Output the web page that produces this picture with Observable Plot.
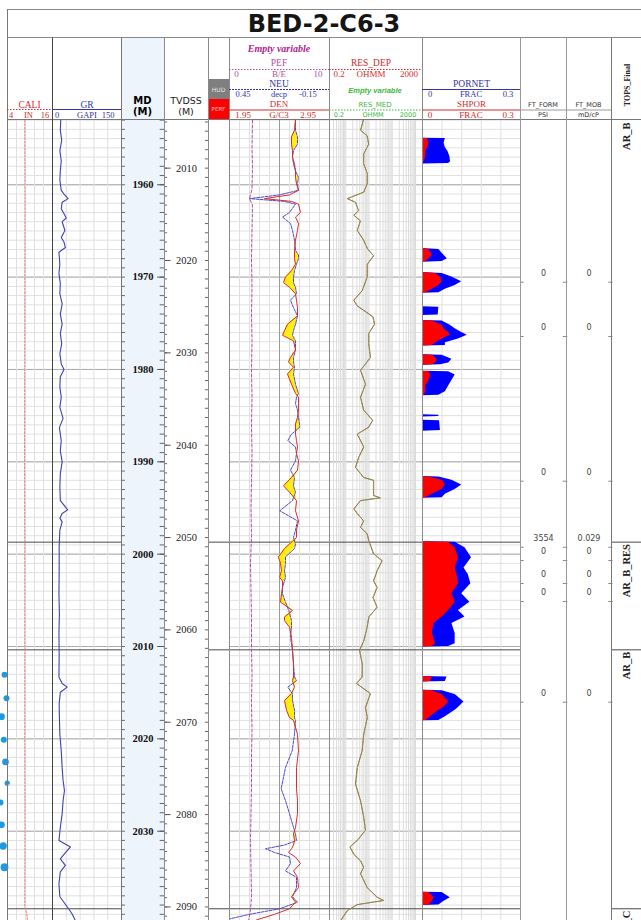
<!DOCTYPE html>
<html><head><meta charset="utf-8">
<script src="https://cdn.jsdelivr.net/npm/d3@7"></script>
<script src="https://cdn.jsdelivr.net/npm/@observablehq/plot@0.6"></script>
<style>
body{margin:0;background:#fff;}
#wrap{position:relative;width:641px;height:920px;overflow:hidden;background:#fff;}
.trk{position:absolute;overflow:hidden;}
.trk svg{display:block;max-width:none;}
</style></head><body><div id="wrap"></div>
<script>
// ---------------- DATA ----------------
const CALI_MD = [1953.0,1962,1975,1990,2000,2010,2020,2030,2038.2,2038.8,2039.7];
const CALI    = [8.6,8.65,8.6,8.55,8.6,8.6,8.6,8.65,8.6,9.1,9.3];

const GR_MD = [
 1953.0,1954.1,1955.2,1956.3,1957.4,1958.5,1959.5,1960.6,1961.0,1961.5,
 1961.9,1962.6,1963.6,1964.0,1964.95,1965.7,1966.2,1966.8,1967.3,1968.6,
 1969.6,1970.7,1971.8,1972.9,1974.0,1975.1,1976.1,1977.2,1978.3,1979.4,
 1980.0,1980.8,1981.9,1983.0,1984.1,1985.3,1986.3,1987.7,1988.8,1990.0,
 1991.3,1992.7,1994.2,1994.7,1995.2,1995.6,1996.1,1996.5,1997.4,1999.2,
 2001.8,2004.3,2006.5,2008.6,2010.8,2013.3,2014.0,2014.4,2014.95,2016.2,
 2017.65,2019.5,2021.3,2023.1,2024.5,2025.6,2026.7,2028.1,2029.6,2031.0,
 2031.7,2032.5,2033.0,2033.7,2034.4,2035.7,2037.1,2038.4,2039.0,2039.7];
const GR = [
 18,17,20,16,19,17,16,19,25,34,
 21,19,30,21,27,19,25,28,14,16,
 14,17,16,21,17,21,17,20,16,19,
 25,17,16,19,16,23,15,19,17,21,
 17,16,17,25,33,21,16,21,16,14.5,
 14.5,14,15,14,14.5,14,21,32,17,14.5,
 15,16,19,21,23,26,23,21,17,14,
 39,25,17,28,17,14,16,35,43,50];

const PEF_MD = [1953.0,1956,1958,1960.5,1961.5,1962.2,1965,1968,1971,1974,1977,1980,1983,1986,1989,1992,1995,1998,2001,2004,2007,2010,2013,2016,2019,2022,2025,2028,2031,2034,2037,2038.5,2039.7];
const PEF    = [2.3,2.25,2.3,2.25,2.0,2.3,2.25,2.2,2.25,2.2,2.25,2.2,2.25,2.2,2.25,2.2,2.15,2.2,2.1,2.15,2.2,2.2,2.25,2.2,2.25,2.2,2.2,2.15,2.1,2.15,2.2,2.1,1.9];

const DN_MD = [
 1952.9,1954.1,1954.8,1955.6,1956.3,1957.0,1957.7,1958.5,1959.2,1959.9,
 1960.6,1961.1,1961.5,1961.8,1962.1,1963.0,1963.5,1964.2,1964.95,1966.0,
 1967.1,1967.6,1968.0,1968.6,1969.3,1970.0,1970.6,1971.1,1971.8,1972.5,
 1973.3,1974.2,1975.1,1975.8,1976.3,1976.9,1977.9,1978.7,1979.2,1979.75,
 1980.5,1981.6,1982.6,1983.0,1983.7,1984.4,1985.2,1985.9,1986.25,1987.0,
 1987.7,1988.4,1989.1,1989.9,1990.9,1991.7,1992.6,1993.3,1994.2,1995.3,
 1996.4,1997.4,1998.2,1998.9,1999.4,2000.3,2001.0,2001.8,2002.5,2002.9,
 2003.6,2004.3,2005.2,2006.1,2006.8,2007.2,2007.9,2009.0,2010.4,2011.9,
 2013.3,2013.7,2014.4,2015.1,2015.85,2016.9,2017.7,2018.0,2019.5,2021.3,
 2023.1,2025.4,2026.7,2028.1,2029.6,2030.3,2031.0,2031.5,2031.9,2032.3,
 2032.8,2033.5,2034.3,2035.0,2036.1,2037.1,2037.7,2038.4,2039.0,2039.5,
 2039.7];
const NEU = [
 0.054,0.054,0.042,0.042,0.066,0.072,0.060,0.054,0.036,0.042,
 0.036,0.150,0.330,0.120,0.054,0.090,0.132,0.084,0.072,0.060,
 0.054,0.036,0.036,0.048,0.060,0.066,0.066,0.054,0.048,0.084,
 0.066,0.042,0.054,0.066,0.072,0.054,0.054,0.066,0.066,0.060,
 0.066,0.054,0.036,0.048,0.054,0.042,0.036,0.030,0.028,0.078,
 0.100,0.054,0.048,0.054,0.084,0.060,0.066,0.054,0.072,0.148,
 0.042,0.054,0.066,0.054,0.060,0.114,0.114,0.120,0.114,0.120,
 0.132,0.132,0.114,0.094,0.084,0.078,0.078,0.084,0.072,0.066,
 0.060,0.048,0.100,0.072,0.072,0.060,0.060,0.054,0.060,0.074,
 0.114,0.140,0.114,0.090,0.066,0.054,0.048,0.120,0.234,0.180,
 0.090,0.084,0.114,0.048,0.048,0.072,0.042,0.150,0.330,0.450,
 0.450];
const DEN = [
 2.61,2.60,2.57,2.57,2.58,2.58,2.59,2.61,2.61,2.62,
 2.64,2.55,2.30,2.57,2.64,2.66,2.61,2.64,2.63,2.61,
 2.60,2.60,2.60,2.61,2.57,2.51,2.49,2.55,2.61,2.62,
 2.63,2.63,2.53,2.50,2.48,2.59,2.61,2.56,2.54,2.59,
 2.53,2.57,2.61,2.64,2.64,2.64,2.63,2.61,2.61,2.61,
 2.62,2.63,2.62,2.64,2.63,2.57,2.49,2.55,2.62,2.61,
 2.64,2.62,2.62,2.55,2.50,2.44,2.46,2.47,2.45,2.48,
 2.48,2.47,2.46,2.58,2.50,2.50,2.55,2.57,2.58,2.59,
 2.59,2.58,2.60,2.57,2.50,2.52,2.55,2.59,2.63,2.64,
 2.62,2.62,2.63,2.63,2.61,2.59,2.60,2.59,2.57,2.54,
 2.61,2.66,2.59,2.63,2.64,2.57,2.61,2.55,2.40,2.25,
 2.20];

const RES_MD = [
 1953.0,1954.1,1954.7,1955.6,1956.65,1957.7,1958.8,1959.9,1960.8,1961.5,
 1961.9,1962.8,1963.3,1963.9,1964.95,1966.0,1966.9,1967.7,1968.6,1970.0,
 1971.45,1972.5,1973.1,1974.3,1975.1,1976.1,1977.2,1978.7,1980.1,1981.6,
 1983.0,1984.4,1985.5,1986.25,1987.0,1988.4,1989.5,1990.6,1991.7,1992.0,
 1993.65,1993.9,1994.2,1995.1,1995.6,1996.4,1997.1,1997.8,1998.5,1999.97,
 2000.7,2001.8,2002.9,2003.6,2004.7,2005.75,2006.8,2007.9,2009.4,2010.4,
 2011.9,2013.3,2014.0,2015.1,2016.6,2017.7,2019.5,2021.3,2023.1,2024.9,
 2026.7,2028.5,2029.9,2031.0,2031.7,2032.5,2033.2,2033.9,2034.6,2036.1,
 2037.15,2037.5,2037.95,2038.6,2039.7];
const RES_DEP = [
 5.8,4.3,8.4,9.8,5.9,5.9,8.4,8.4,5.9,1.15,
 2.6,3.6,2.2,4.3,3.1,5.9,8.4,15.9,8.4,8.4,
 5.1,2.2,3.1,15,17.5,9.8,9.8,11.6,4.3,7.1,
 4.3,5.9,14.5,9.8,3.1,5.9,3.6,2.6,5.9,15.9,
 15.9,31,4.3,2.2,3.1,5.9,4.3,8.4,9.8,15.9,
 37,22.5,15.9,22.5,15,22.5,9.8,8.4,5.9,3.9,
 5.1,5.1,2.9,11.6,7.1,8.4,5.9,5.1,3.1,2.6,
 4.3,5.9,7.1,3.1,1.5,2.2,4.3,5.9,4.3,8.4,
 22.5,43,3.1,1.15,0.59];
const RES_MED = [
 5.6,4.4,8.2,9.6,6.0,5.8,8.5,8.2,6.0,1.2,
 2.7,3.5,2.3,4.2,3.2,5.8,8.6,15.5,8.5,8.2,
 5.2,2.3,3.0,14.6,17.0,9.9,9.6,11.3,4.4,7.0,
 4.4,5.8,14.0,9.6,3.2,6.0,3.7,2.7,5.8,15.5,
 15.5,30,4.4,2.3,3.2,5.8,4.4,8.2,9.6,15.5,
 36,22,15.5,22,14.6,22,9.9,8.2,6.0,4.0,
 5.2,5.0,3.0,11.3,7.0,8.5,6.0,5.0,3.2,2.7,
 4.4,6.0,7.0,3.2,1.55,2.3,4.4,5.8,4.4,8.2,
 22,42,3.2,1.2,0.6];

const POR_MD = [
 1953.0,1954.95,1955.0,1955.5,1956.0,1956.4,1957.0,1957.5,1957.7,1957.75,
 1966.9,1967.0,1967.6,1968.0,1968.3,1968.4,1969.5,1969.6,1970.0,1970.5,
 1970.9,1971.3,1971.7,1971.75,1973.2,1973.25,1974.1,1974.15,1974.7,1974.75,
 1975.2,1975.6,1976.0,1976.3,1976.7,1977.1,1977.4,1977.45,1978.4,1978.45,
 1978.9,1979.3,1979.5,1979.55,1980.2,1980.25,1980.6,1981.2,1981.8,1982.4,
 1982.8,1982.85,1984.9,1984.95,1985.1,1985.15,1985.5,1985.55,1986.6,1986.7,
 1991.6,1991.65,1992.0,1992.5,1993.0,1993.5,1993.9,1993.95,1998.65,1998.7,
 1999.3,2000.4,2001.5,2002.2,2003.2,2004.3,2005.2,2006.1,2006.8,2007.5,
 2008.6,2009.7,2010.0,2010.05,2013.25,2013.3,2013.8,2013.85,2014.75,2014.8,
 2015.2,2016.0,2016.6,2016.9,2017.6,2018.0,2018.05,2036.6,2036.65,2037.2,
 2037.6,2038.0,2038.05,2039.7];
const PORNET = [
 0,0,0.070,0.066,0.070,0.078,0.084,0.086,0.080,0,
 0,0.050,0.065,0.076,0.060,0,0,0.060,0.090,0.120,
 0.100,0.070,0.050,0,0,0.050,0.048,0,0,0.060,
 0.085,0.100,0.120,0.137,0.110,0.070,0.070,0,0,0.060,
 0.090,0.080,0.055,0,0,0.080,0.100,0.090,0.080,0.070,
 0.050,0,0,0.050,0.050,0,0,0.052,0.055,0,
 0,0.050,0.090,0.120,0.100,0.070,0.060,0,0,0.100,
 0.130,0.150,0.127,0.140,0.148,0.120,0.145,0.110,0.130,0.090,
 0.100,0.100,0.080,0,0,0.075,0.070,0,0,0.060,
 0.100,0.127,0.110,0.100,0.070,0.050,0,0,0.060,0.085,
 0.065,0.050,0,0];
const SHPOR = [
 0,0,0.015,0.020,0.015,0.010,0.010,0.005,0,0,
 0,0.020,0.030,0.020,0.010,0,0,0.040,0.055,0.060,
 0.050,0.030,0.010,0,0,0,0,0,0,0.030,
 0.060,0.065,0.080,0.085,0.060,0.040,0.030,0,0,0.030,
 0.045,0.040,0.030,0,0,0.020,0.025,0.020,0.010,0.010,
 0.005,0,0,0,0,0,0,0,0,0,
 0,0.020,0.060,0.070,0.060,0.030,0.010,0,0,0.080,
 0.100,0.110,0.100,0.105,0.110,0.090,0.100,0.080,0.060,0.035,
 0.030,0.040,0.030,0,0,0.030,0.025,0,0,0.030,
 0.060,0.080,0.065,0.050,0.025,0.010,0,0,0.020,0.035,
 0.030,0.020,0,0];

const FT_MD   = [1970.55,1976.43,1992.1,1999.25,2000.69,2003.18,2005.13,2016.03];
const FT_FORM = [0,0,0,3554,0,0,0,0];
const FT_MOB  = [0,0,0,0.029,0,0,0,0];

const TOPS_NAME = ["AR_B","AR_B_RES","AR_B","AR_C"];
const TOPS_MD   = [1945,1998.7,2010.36,2038.4];

const MD_LABELS    = [1960,1970,1980,1990,2000,2010,2020,2030];
const TVDSS_LABELS = [2010,2020,2030,2040,2050,2060,2070,2080,2090];
const SURVEY_MD    = [1953.0,2039.7];
const SURVEY_TVDSS = [2004.8,2091.5];

const DOT_MD   = [2013.07,2015.6,2017.6,2020.1,2022.5,2024.8,2026.9,2029.3,2031.6,2033.9];
const DOT_VAL  = [4,6,1,3.3,5,6.7,0,1,2.7,4];
const DOT_SIZE = [2,2,2.5,2,2.5,1.5,2,2.5,3,3.5];

// ---------------- LAYOUT ----------------
const wrap = document.getElementById("wrap");
const TOP = 120, H = 800;
const MD_DOMAIN = [1953.04, 2039.67];
const SERIF = "'Liberation Serif','Times New Roman',serif";
const SANS = "'DejaVu Sans',Verdana,sans-serif";
const ARIAL = "'Liberation Sans',Arial,sans-serif";
const RED = "#d42a2a", BLUE = "#3434a8", PEFC = "#b0509a", MAG = "#b0238c", GREEN = "#3cb83c";

const rows = (md, obj) => md.map((m, i) => {
  const r = {md: m};
  for (const k in obj) r[k] = obj[k][i];
  return r;
});
const inDom = m => m >= MD_DOMAIN[0] && m <= MD_DOMAIN[1];

function addTrack(x0, x1, xScale, marks, bg) {
  const w = x1 - x0;
  const div = document.createElement("div");
  div.className = "trk";
  div.style.cssText = `left:${x0}px;top:${TOP}px;width:${w}px;height:${H}px;background:${bg || "transparent"}`;
  const chart = Plot.plot({
    width: w, height: H, margin: 0,
    x: Object.assign({axis: null}, xScale),
    y: {domain: MD_DOMAIN, reverse: true, axis: null},
    style: {background: "transparent", fontFamily: SERIF, overflow: "hidden"},
    marks
  });
  div.appendChild(chart);
  wrap.appendChild(div);
}
const hGrid = () => [
  Plot.ruleY(d3.range(1953, 2040), {stroke: "#e0e0e0"}),
  Plot.ruleY(d3.range(1960, 2040, 10), {stroke: "#aaaaaa"})
];
const topsRule = () => Plot.ruleY(TOPS_MD.filter(inDom), {stroke: "#4a4a4a"});

// left dots (partly visible track)
addTrack(0, 12, {domain: [0, 12]}, [
  Plot.dot(rows(DOT_MD, {v: DOT_VAL, s: DOT_SIZE}), {x: "v", y: "md", r: "s", fill: "#1e9be0", stroke: "none"})
]);

// CALI
addTrack(7, 52, {domain: [4, 16]}, [
  ...hGrid(),
  Plot.ruleX([6.4, 8.8, 11.2, 13.6], {stroke: "#e0e0e0"}),
  topsRule(),
  Plot.line(rows(CALI_MD, {v: CALI}), {x: "v", y: "md", stroke: "#e4846f", strokeWidth: 1, strokeDasharray: "2,1.5"})
]);
// GR
addTrack(52, 121, {domain: [0, 150]}, [
  ...hGrid(),
  Plot.ruleX([30, 60, 90, 120], {stroke: "#e0e0e0"}),
  topsRule(),
  Plot.line(rows(GR_MD, {v: GR}), {x: "v", y: "md", stroke: "#4040b0", strokeWidth: 1.1})
]);
// MD
const mdTicks = d3.range(1953, 2040);
addTrack(121, 164, {domain: [0, 1]}, [
  Plot.ruleY(mdTicks, {x1: 0, x2: 0.09, stroke: "#666"}),
  Plot.ruleY(mdTicks, {x1: 0.9, x2: 1, stroke: "#666"}),
  Plot.ruleY(MD_LABELS, {x1: 0.84, x2: 1, stroke: "#555"}),
  Plot.text(MD_LABELS, {y: d => d, text: d => String(d), frameAnchor: "middle", fontWeight: "bold", fontSize: 10.5, fill: "#111"})
], "#eef4fb");
// TVDSS
const tvdToMd = d3.scaleLinear(SURVEY_TVDSS, SURVEY_MD);
const tvdTicks = d3.range(2005, 2092).map(t => tvdToMd(t));
addTrack(164, 208, {domain: [0, 1]}, [
  Plot.ruleY(tvdTicks, {x1: 0, x2: 0.07, stroke: "#666"}),
  Plot.ruleY(tvdTicks, {x1: 0.93, x2: 1, stroke: "#666"}),
  Plot.ruleY(TVDSS_LABELS.map(t => tvdToMd(t)), {x1: 0, x2: 0.15, stroke: "#555"}),
  Plot.text(TVDSS_LABELS, {y: d => tvdToMd(d), text: d => String(d), frameAnchor: "middle", fontSize: 10.5, fill: "#222"})
]);
// HUD/PERF
addTrack(208, 229, {domain: [0, 1]}, [topsRule()]);
// PEF / NEU / DEN
const pefN = v => v / 10, neuN = v => (0.45 - v) / 0.6, denN = v => (v - 1.95) / 1.0;
const dn = rows(DN_MD, {neu: NEU, den: DEN});
addTrack(229, 329, {domain: [0, 1]}, [
  ...hGrid(),
  Plot.ruleX(d3.range(1, 10).map(i => i / 10).filter(v => v !== 0.5), {stroke: "#e0e0e0"}),
  Plot.ruleX([0.5], {stroke: "#9a9a9a"}),
  topsRule(),
  Plot.areaX(dn, {y: "md", x1: d => denN(d.den), x2: d => Math.max(denN(d.den), neuN(d.neu)), fill: "#ffee10", curve: "linear"}),
  Plot.line(rows(PEF_MD, {v: PEF}), {x: d => pefN(d.v), y: "md", stroke: PEFC, strokeWidth: 1, strokeDasharray: "3,2"}),
  Plot.line(dn, {x: d => neuN(d.neu), y: "md", stroke: "#4a4ad4", strokeWidth: 1, strokeDasharray: "3,1.2"}),
  Plot.line(dn, {x: d => denN(d.den), y: "md", stroke: "#de2a2a", strokeWidth: 1})
]);
// RES
const logGrid = [];
for (let e = -1; e <= 3; e++) for (let k = 1; k <= 9; k++) { const v = k * Math.pow(10, e); if (v >= 0.2 && v <= 2000) logGrid.push(+v.toPrecision(3)); }
const res = rows(RES_MD, {dep: RES_DEP, med: RES_MED});
addTrack(329, 422, {type: "log", domain: [0.2, 2000]}, [
  ...hGrid(),
  Plot.ruleX(logGrid, {stroke: "#dcdcdc"}),
  topsRule(),
  Plot.line(res, {x: "dep", y: "md", stroke: "#c8553d", strokeWidth: 1}),
  Plot.line(res, {x: "med", y: "md", stroke: "#6aa84f", strokeWidth: 1, strokeDasharray: "2,2"})
]);
// PORNET / SHPOR
const por = rows(POR_MD, {pn: PORNET, sh: SHPOR});
addTrack(422, 520, {domain: [0, 0.3]}, [
  ...hGrid(),
  Plot.ruleX([0.06, 0.12, 0.18, 0.24], {stroke: "#e0e0e0"}),
  topsRule(),
  Plot.areaX(por, {y: "md", x1: 0, x2: "pn", fill: "#0000ff", curve: "linear"}),
  Plot.areaX(por, {y: "md", x1: 0, x2: "sh", fill: "#ff0000", curve: "linear"})
]);
// FT_FORM / FT_MOB
const ft = rows(FT_MD, {form: FT_FORM, mob: FT_MOB});
addTrack(520, 566, {domain: [0, 1]}, [
  Plot.ruleY(FT_MD, {x1: 0, x2: 0.08, stroke: "#888"}),
  Plot.ruleY(FT_MD, {x1: 0.93, x2: 1, stroke: "#888"}),
  Plot.text(ft, {y: "md", text: d => String(d.form), frameAnchor: "middle", dy: -9, fontSize: 8, fontFamily: SANS, fill: "#444"})
]);
addTrack(566, 611, {domain: [0, 1]}, [
  Plot.ruleY(FT_MD, {x1: 0, x2: 0.03, stroke: "#888"}),
  Plot.ruleY(FT_MD, {x1: 0.94, x2: 1, stroke: "#888"}),
  Plot.text(ft, {y: "md", text: d => String(d.mob), frameAnchor: "middle", dy: -9, fontSize: 8, fontFamily: SANS, fill: "#444"})
]);
// TOPS
const tops = TOPS_MD.map((m, i) => ({md: m, name: TOPS_NAME[i]}));
addTrack(611, 641, {domain: [0, 1]}, [
  Plot.ruleY(FT_MD, {x1: 0, x2: 0.05, stroke: "#888"}),
  topsRule(),
  Plot.text(tops, {y: d => Math.max(d.md, MD_DOMAIN[0]), text: "name", rotate: -90, textAnchor: "end", frameAnchor: "middle", dy: 2, fontWeight: "bold", fontSize: 10.5, fill: "#222", fontFamily: SERIF})
]);

// ---------------- FRAME & HEADER ----------------
const svg = d3.create("svg").attr("width", 641).attr("height", 920)
  .style("position", "absolute").style("left", "0px").style("top", "0px").style("pointer-events", "none");
const line = (x1, y1, x2, y2, stroke, w = 1, dash = null) => {
  const l = svg.append("line").attr("x1", x1).attr("y1", y1).attr("x2", x2).attr("y2", y2).attr("stroke", stroke).attr("stroke-width", w);
  if (dash) l.attr("stroke-dasharray", dash);
};
const txt = (s, x, y, o = {}) => {
  const t = svg.append("text").attr("x", x).attr("y", y)
    .attr("text-anchor", o.anchor || "middle").attr("dominant-baseline", "central")
    .attr("font-family", o.family || SERIF).attr("font-size", o.size || 9.5)
    .attr("font-weight", o.weight || "normal").attr("font-style", o.style || "normal")
    .attr("fill", o.fill || "#000").text(s);
  if (o.rotate) t.attr("transform", `rotate(${o.rotate},${x},${y})`);
  return t;
};
// header backgrounds
svg.append("rect").attr("x", 121).attr("y", 37.5).attr("width", 43).attr("height", 82).attr("fill", "#eef4fb");
svg.append("rect").attr("x", 208).attr("y", 79).attr("width", 21).attr("height", 20).attr("fill", "#7f7f7f");
svg.append("rect").attr("x", 208).attr("y", 99).attr("width", 21).attr("height", 20.5).attr("fill", "#ff0000");
// title box
line(7, 9.5, 641, 9.5, "#888");
line(7, 37.5, 641, 37.5, "#888");
line(7.5, 9, 7.5, 920, "#777");
txt("BED-2-C6-3", 324, 23.5, {family: SANS, weight: "bold", size: 24, fill: "#151515"});
// header bottom
line(7, 119.5, 641, 119.5, "#777");
// track borders
const borders = [[52, "#454545"], [121, "#777"], [164, "#8a8a8a"], [208, "#8a8a8a"], [229, "#8a8a8a"], [329, "#8a8a8a"], [422, "#8a8a8a"], [520, "#999"], [566, "#999"], [611, "#777"]];
for (const [x, c] of borders) line(x + 0.5, 37.5, x + 0.5, 920, c);
// CALI
txt("CALI", 29.5, 105, {fill: RED});
line(7, 109.5, 52, 109.5, RED, 1, "1.5,1.5");
txt("4", 11, 115, {fill: RED, size: 8.5}); txt("IN", 28.5, 115, {fill: RED, size: 8.5}); txt("16", 45, 115, {fill: RED, size: 8.5});
// GR
txt("GR", 87, 105, {fill: BLUE});
line(52, 109.5, 121, 109.5, BLUE);
txt("0", 57, 115, {fill: BLUE, size: 8.5}); txt("GAPI", 87, 115, {fill: BLUE, size: 8.5}); txt("150", 108, 115, {fill: BLUE, size: 8.5});
// MD / TVDSS
txt("MD", 142.5, 100.5, {family: SANS, weight: "bold", size: 10});
txt("(M)", 142.5, 111, {family: SANS, weight: "bold", size: 10});
txt("TVDSS", 186, 100.5, {family: SANS, size: 9.5, fill: "#222"});
txt("(M)", 186, 111, {family: SANS, size: 9.5, fill: "#222"});
// HUD / PERF
txt("HUD", 218.5, 89, {family: SANS, size: 6, fill: "#e8e8e8"});
txt("PERF", 218.5, 109, {family: SANS, size: 5.5, fill: "#ffc8c8"});
// PEF / NEU / DEN
txt("Empty variable", 279, 48, {weight: "bold", style: "italic", fill: MAG, size: 10});
txt("PEF", 279, 63, {fill: PEFC});
line(229, 69.5, 329, 69.5, PEFC, 1, "1.5,1.5");
txt("0", 236.5, 73.5, {fill: PEFC, size: 9}); txt("B/E", 279, 73.5, {fill: PEFC, size: 9}); txt("10", 318, 73.5, {fill: PEFC, size: 9});
txt("NEU", 279, 83.5, {fill: BLUE});
line(229, 89.5, 329, 89.5, BLUE, 1, "2,1");
txt("0.45", 243, 94, {fill: BLUE, size: 8.5}); txt("decp", 279, 94, {fill: BLUE, size: 8.5}); txt("-0.15", 308, 94, {fill: BLUE, size: 8.5});
txt("DEN", 279, 104, {fill: RED, size: 9});
line(229, 110, 329, 110, RED);
txt("1.95", 243, 115, {fill: RED, size: 9}); txt("G/C3", 279, 115, {fill: RED, size: 9}); txt("2.95", 308, 115, {fill: RED, size: 9});
// RES
txt("RES_DEP", 371, 63, {fill: RED});
line(329, 69.5, 422, 69.5, RED, 1, "1.5,1.5");
txt("0.2", 339, 73.5, {fill: RED, size: 9}); txt("OHMM", 371, 73.5, {fill: RED, size: 9}); txt("2000", 409, 73.5, {fill: RED, size: 9});
txt("Empty variable", 375, 90, {family: ARIAL, weight: "bold", style: "italic", fill: GREEN, size: 7.5});
txt("RES_MED", 375, 105, {family: SANS, fill: GREEN, size: 7});
line(329, 110, 422, 110, GREEN, 1, "1.5,1.5");
txt("0.2", 339, 115, {family: SANS, fill: GREEN, size: 6.5}); txt("OHMM", 373, 115, {family: SANS, fill: GREEN, size: 6.5}); txt("2000", 408, 115, {family: SANS, fill: GREEN, size: 6.5});
// PORNET / SHPOR
txt("PORNET", 471.5, 83.5, {fill: BLUE});
line(422, 89.5, 520, 89.5, BLUE);
txt("0", 430, 94, {fill: BLUE, size: 8.5}); txt("FRAC", 471, 94, {fill: BLUE, size: 8.5}); txt("0.3", 508, 94, {fill: BLUE, size: 8.5});
txt("SHPOR", 471.5, 104, {fill: RED, size: 9});
line(422, 110, 520, 110, RED);
txt("0", 430, 115, {fill: RED, size: 9}); txt("FRAC", 471, 115, {fill: RED, size: 9}); txt("0.3", 508, 115, {fill: RED, size: 9});
// FT
txt("FT_FORM", 543, 104.5, {family: SANS, size: 6.5, fill: "#333"});
line(520, 110, 566, 110, "#999");
txt("PSI", 543, 115, {family: SANS, size: 6.5, fill: "#333"});
txt("FT_MOB", 588.5, 104.5, {family: SANS, size: 6.5, fill: "#333"});
line(566, 110, 611, 110, "#999");
txt("mD/cP", 588.5, 115, {family: SANS, size: 6.5, fill: "#333"});
// TOPS
txt("TOPS_Final", 627, 85, {weight: "bold", size: 8, rotate: -90, fill: "#222"});

wrap.appendChild(svg.node());
</script></body></html>
